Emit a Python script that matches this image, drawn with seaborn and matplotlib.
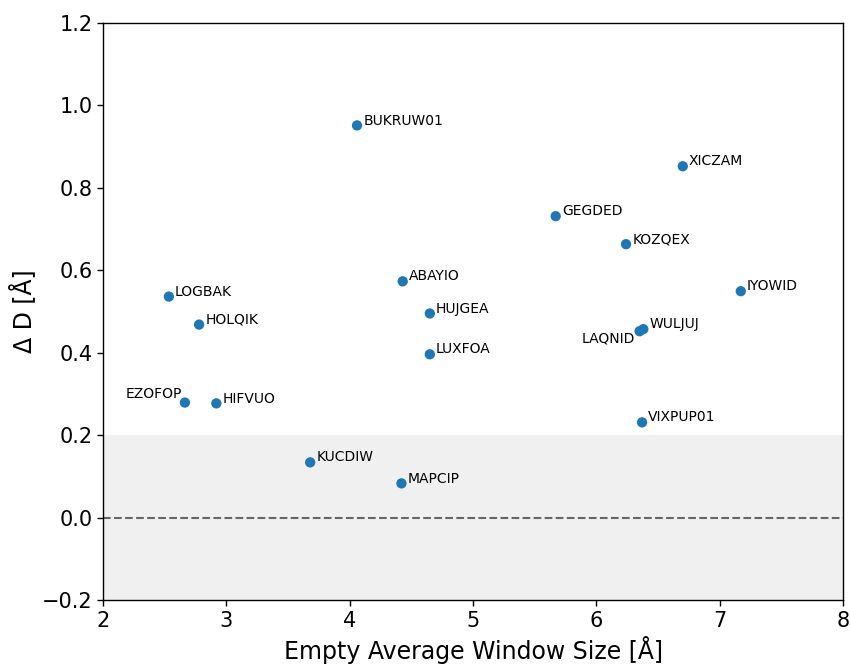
import matplotlib
matplotlib.use("Agg")
import matplotlib.pyplot as plt
import seaborn as sns
import pandas as pd

names = ["BUKRUW01", "XICZAM", "GEGDED", "KOZQEX", "IYOWID", "ABAYIO", "HUJGEA",
         "LUXFOA", "LOGBAK", "HOLQIK", "EZOFOP", "HIFVUO", "WULJUJ", "LAQNID",
         "VIXPUP01", "KUCDIW", "MAPCIP"]
window = [4.06, 6.70, 5.67, 6.24, 7.17, 4.43, 4.65, 4.65, 2.535, 2.78, 2.665, 2.92,
          6.38, 6.35, 6.37, 3.68, 4.42]
delta_d = [0.951, 0.852, 0.731, 0.663, 0.549, 0.573, 0.495, 0.396, 0.536, 0.468,
           0.279, 0.277, 0.457, 0.452, 0.231, 0.134, 0.083]

sns.set_style("white")
plt.rcParams.update({"text.color": "black", "axes.labelcolor": "black",
                     "xtick.color": "black", "ytick.color": "black"})

df = pd.DataFrame({"name": names, "x": window, "y": delta_d})

fig = plt.figure(figsize=(8.5, 6.69), dpi=100)
ax = fig.add_axes([0.121, 0.103, 0.871, 0.863])

ax.axhspan(-0.2, 0.2, color="#f0f0f0", zorder=0, lw=0)
ax.axhline(0, color="#666666", ls="--", lw=1.5, zorder=1)

sns.scatterplot(data=df, x="x", y="y", ax=ax, color="#1f77b4", s=55,
                edgecolor="none", zorder=3)

for n, x, y in zip(names, window, delta_d):
    if n == "LAQNID":
        ax.annotate(n, (x, y), xytext=(-3, -5.5), textcoords="offset points",
                    ha="right", va="center", fontsize=10, color="black")
    elif n == "EZOFOP":
        ax.annotate(n, (x, y), xytext=(-2, 6.5), textcoords="offset points",
                    ha="right", va="center", fontsize=10, color="black")
    else:
        ax.annotate(n, (x, y), xytext=(4.5, 3.5), textcoords="offset points",
                    ha="left", va="center", fontsize=10, color="black")

ax.set_xlim(2, 8)
ax.set_ylim(-0.2, 1.2)
ax.set_xticks([2, 3, 4, 5, 6, 7, 8])
ax.set_yticks([-0.2, 0.0, 0.2, 0.4, 0.6, 0.8, 1.0, 1.2])
ax.set_yticklabels(["\u22120.2", "0.0", "0.2", "0.4", "0.6", "0.8", "1.0", "1.2"])
ax.tick_params(axis="both", labelsize=15, length=4, width=1, left=True, bottom=True,
               direction="out", colors="black")
ax.set_xlabel("Empty Average Window Size [\u00c5]", fontsize=17)
ax.set_ylabel("\u0394 D [\u00c5]", fontsize=17)
for s in ax.spines.values():
    s.set_color("black")
    s.set_linewidth(1)

fig.savefig("out.png", dpi=100)
